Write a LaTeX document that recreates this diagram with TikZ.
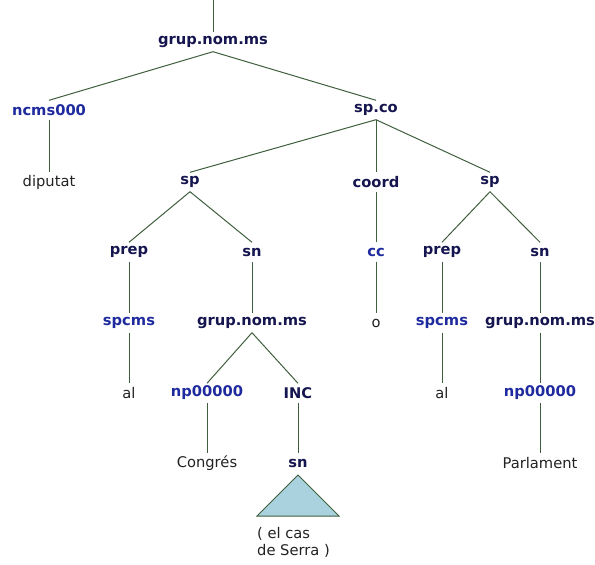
\documentclass[tikz,border=0pt]{standalone}
\usepackage{fontspec}
\setmainfont{DejaVu Sans}
\definecolor{catcol}{HTML}{15154F}
\definecolor{poscol}{HTML}{1E2A9E}
\definecolor{wordcol}{HTML}{222222}
\definecolor{linecol}{HTML}{3E5E3E}
\definecolor{trifill}{HTML}{A9D1DE}
\begin{document}
\begin{tikzpicture}[x=1pt,y=-1pt,
  base/.style={inner sep=0pt,minimum height=19pt,anchor=center,font=\fontsize{14.7}{17}\selectfont},
  cat/.style={base,text=catcol,font=\fontsize{14.7}{17}\selectfont\bfseries},
  postag/.style={base,text=poscol,font=\fontsize{14.7}{17}\selectfont\bfseries},
  word/.style={base,text=wordcol},
  br/.style={draw=linecol,line width=1pt}]
\useasboundingbox (0,0) rectangle (595,565);
\coordinate (top) at (213,0);
\node[cat] (g1) at (213,42) {grup.nom.ms};
\node[postag] (ncms) at (49,110) {ncms000};
\node[cat] (spco) at (376,110) {sp.co};
\node[word] (diputat) at (49,182) {diputat};
\node[cat] (spL) at (190,182) {sp};
\node[cat] (coord) at (376,182) {coord};
\node[cat] (spR) at (490,182) {sp};
\node[cat] (prepL) at (129,252) {prep};
\node[cat] (snL) at (252,252) {sn};
\node[postag] (cc) at (376,252) {cc};
\node[cat] (prepR) at (442,252) {prep};
\node[cat] (snR) at (540,252) {sn};
\node[postag] (spcmsL) at (129,323) {spcms};
\node[cat] (g2) at (252,323) {grup.nom.ms};
\node[word] (o) at (376,323) {o};
\node[postag] (spcmsR) at (442,323) {spcms};
\node[cat] (g3) at (540,323) {grup.nom.ms};
\node[word] (alL) at (129,393) {al};
\node[postag] (npL) at (207,393) {np00000};
\node[cat] (inc) at (298,393) {INC};
\node[word] (alR) at (442,393) {al};
\node[postag] (npR) at (540,393) {np00000};
\node[word] (congres) at (207,463) {Congrés};
\node[cat] (sn2) at (298,463) {sn};
\node[word] (parlament) at (540,463) {Parlament};
\node[word,anchor=north west,align=left,minimum height=0pt] (frag) at (257,527) {( el cas\\de Serra )};
\coordinate (apex) at (298,475);
\coordinate (bl) at (257,516);
\coordinate (brr) at (339,516);
\draw[draw=linecol,line width=1pt,fill=trifill,line join=miter] (apex) -- (bl) -- (brr) -- cycle;
\draw[br] (top) -- (g1.north);
\foreach \a/\b in {g1/ncms,g1/spco,ncms/diputat,spco/spL,spco/coord,spco/spR,
  spL/prepL,spL/snL,coord/cc,spR/prepR,spR/snR,prepL/spcmsL,snL/g2,cc/o,
  prepR/spcmsR,snR/g3,spcmsL/alL,g2/npL,g2/inc,spcmsR/alR,g3/npR,npL/congres,
  inc/sn2,npR/parlament}
  \draw[br] (\a.south) -- (\b.north);
\end{tikzpicture}
\end{document}
